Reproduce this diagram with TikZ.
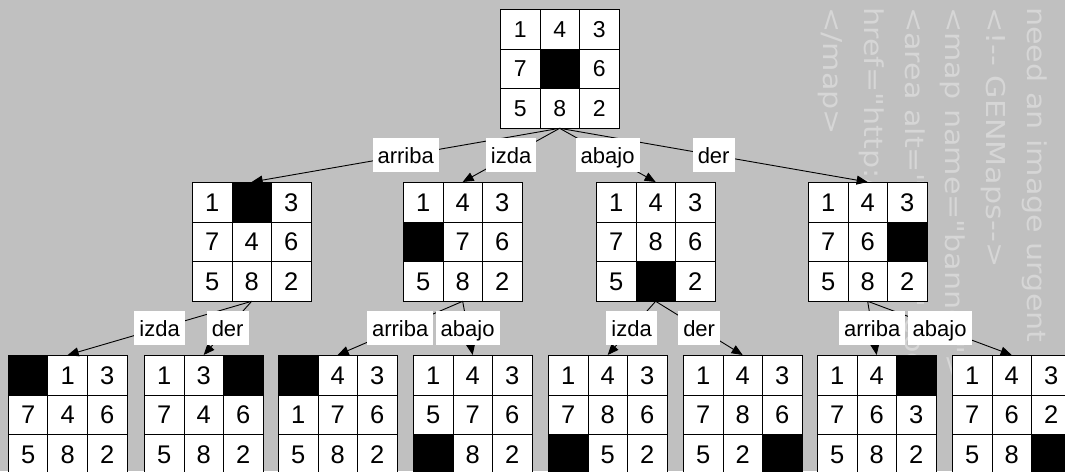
\documentclass[tikz,border=0pt]{standalone}
\usepackage{fontspec}
\setmainfont{Liberation Sans}
\newfontfamily\wmfont{DejaVu Sans}
\usetikzlibrary{matrix,arrows.meta}
\definecolor{bg}{RGB}{192,192,192}
\definecolor{wm}{RGB}{214,214,214}
\newcommand\wmark[1]{\scalebox{1.16}[1]{#1}}
\tikzset{
  puzzle/.style={matrix of nodes, nodes in empty cells, anchor=north west,
    inner sep=0pt, outer sep=0pt, column sep=-0.8pt, row sep=-0.8pt,
    nodes={draw=black, line width=0.8pt, fill=white, minimum size=39.5pt,
      inner sep=0pt, anchor=center, font=\fontsize{25.5}{30}\selectfont,
      text height=18.3pt, text depth=0pt}},
  rootpuzzle/.style={puzzle,
    nodes={font=\fontsize{23}{27}\selectfont, text height=16.5pt}},
  hole/.style={fill=black},
  move/.style={draw=black, line width=0.9pt, -{Triangle[length=11pt,width=9pt]}},
  lbl/.style={fill=white, inner xsep=5pt, inner ysep=4pt, text height=21pt,
    text depth=4.5pt, font=\fontsize{22}{26}\selectfont},
  wmtext/.style={text=wm, font=\wmfont\fontsize{26}{30}\selectfont, rotate=-90,
    anchor=base west, inner sep=0pt}
}
\begin{document}
\begin{tikzpicture}[x=1pt,y=-1pt]
\useasboundingbox (0,0) rectangle (1065,471);
\clip (0,0) rectangle (1065,471);
\fill[bg] (0,0) rectangle (1065,471);
% faint background text
\node[wmtext] (w1) at (1027,7) {\wmark{need an image urgent}};
\node[wmtext] (w2) at (986,7) {\wmark{<!-{}- GENMaps-{}->}};
\node[wmtext] (w3) at (945,7) {\wmark{<map name="banner">}};
\node[wmtext] (w4) at (905,7) {\wmark{<area alt="banner" coords=}};
\node[wmtext] (w5) at (864,7) {\wmark{href="http://www.}};
\node[wmtext] (w6) at (823,7) {\wmark{</map>}};
% puzzles
\matrix[rootpuzzle] (r) at (500,9) {1 & 4 & 3\\ 7 & |[hole]| & 6\\ 5 & 8 & 2\\};
\matrix[puzzle] (a) at (192,182) {1 & |[hole]| & 3\\ 7 & 4 & 6\\ 5 & 8 & 2\\};
\matrix[puzzle] (b) at (403,182) {1 & 4 & 3\\ |[hole]| & 7 & 6\\ 5 & 8 & 2\\};
\matrix[puzzle] (c) at (596,182) {1 & 4 & 3\\ 7 & 8 & 6\\ 5 & |[hole]| & 2\\};
\matrix[puzzle] (d) at (808,182) {1 & 4 & 3\\ 7 & 6 & |[hole]|\\ 5 & 8 & 2\\};
\matrix[puzzle] (a1) at (8,355) {|[hole]| & 1 & 3\\ 7 & 4 & 6\\ 5 & 8 & 2\\};
\matrix[puzzle] (a2) at (144,355) {1 & 3 & |[hole]|\\ 7 & 4 & 6\\ 5 & 8 & 2\\};
\matrix[puzzle] (b1) at (278,355) {|[hole]| & 4 & 3\\ 1 & 7 & 6\\ 5 & 8 & 2\\};
\matrix[puzzle] (b2) at (413,355) {1 & 4 & 3\\ 5 & 7 & 6\\ |[hole]| & 8 & 2\\};
\matrix[puzzle] (c1) at (548,355) {1 & 4 & 3\\ 7 & 8 & 6\\ |[hole]| & 5 & 2\\};
\matrix[puzzle] (c2) at (683,355) {1 & 4 & 3\\ 7 & 8 & 6\\ 5 & 2 & |[hole]|\\};
\matrix[puzzle] (d1) at (817,355) {1 & 4 & |[hole]|\\ 7 & 6 & 3\\ 5 & 8 & 2\\};
\matrix[puzzle] (d2) at (952,355) {1 & 4 & 3\\ 7 & 6 & 2\\ 5 & 8 & |[hole]|\\};
% connectors
\foreach \p/\c in {r/a, r/b, r/c, r/d, a/a1, a/a2, b/b1, b/b2, c/c1, c/c2, d/d1, d/d2}
  \draw[move] (\p.south) -- (\c.north);
% labels
\path (r.south) -- node[lbl] (la) {arriba} (a.north);
\path (r.south) -- node[lbl] (lb) {izda} (b.north);
\path (r.south) -- node[lbl] (lc) {abajo} (c.north);
\path (r.south) -- node[lbl] (ld) {der} (d.north);
\path (a.south) -- node[lbl] (la1) {izda} (a1.north);
\path (a.south) -- node[lbl] (la2) {der} (a2.north);
\path (b.south) -- node[lbl] (lb1) {arriba} (b1.north);
\path (b.south) -- node[lbl] (lb2) {abajo} (b2.north);
\path (c.south) -- node[lbl] (lc1) {izda} (c1.north);
\path (c.south) -- node[lbl] (lc2) {der} (c2.north);
\path (d.south) -- node[lbl] (ld1) {arriba} (d1.north);
\path (d.south) -- node[lbl] (ld2) {abajo} (d2.north);
\end{tikzpicture}
\end{document}
